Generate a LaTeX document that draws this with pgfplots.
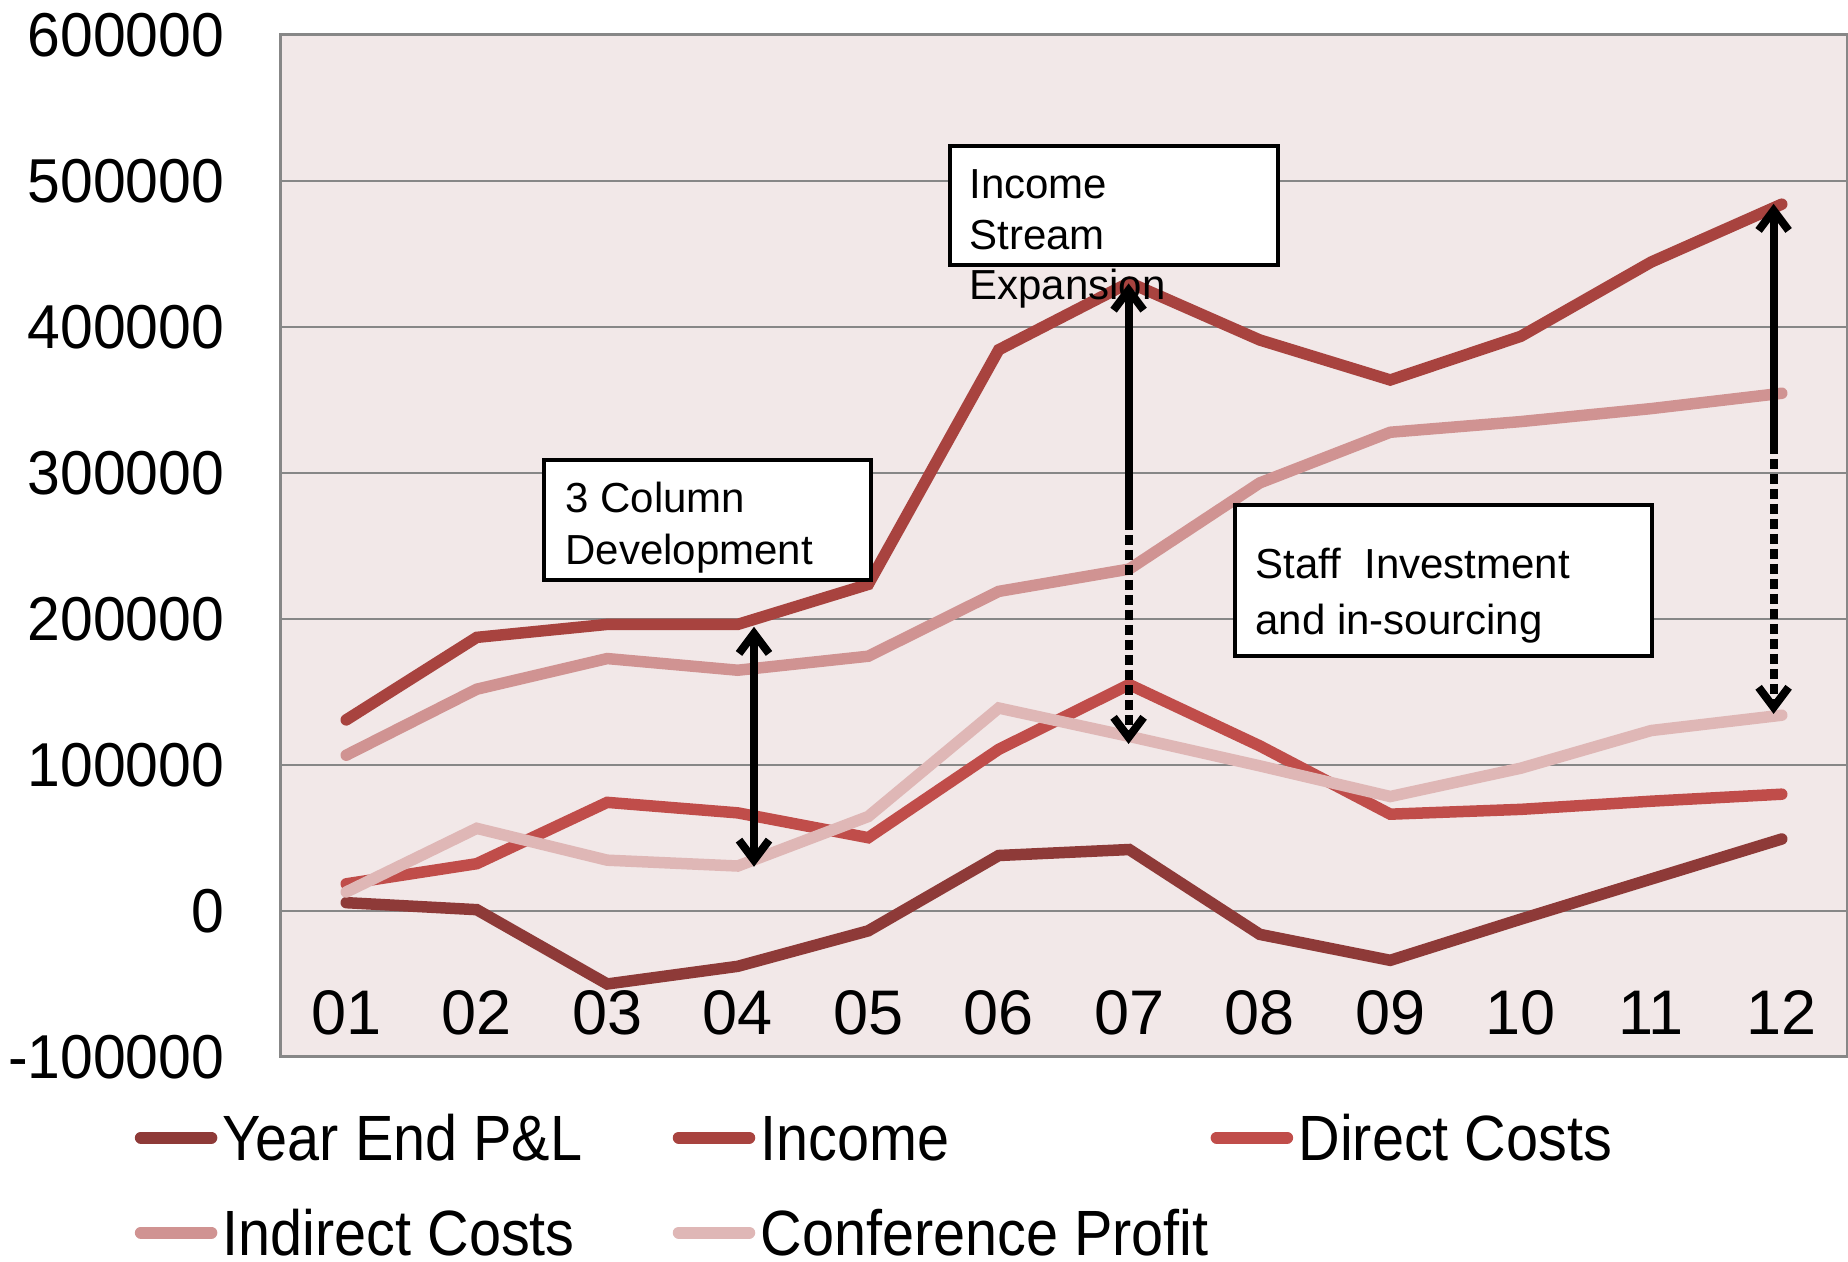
\documentclass[border=0pt]{standalone}
\usepackage{fontspec}
\setmainfont{Liberation Sans}
\newfontfamily\legfam[FakeStretch=0.9]{Liberation Sans}
\newfontfamily\yfam[FakeStretch=0.95]{Liberation Sans}
\usepackage{pgfplots}
\pgfplotsset{compat=1.18}
\usetikzlibrary{arrows.meta}
\definecolor{cPL}{HTML}{8E3A38}
\definecolor{cInc}{HTML}{A8433F}
\definecolor{cDir}{HTML}{C04D4A}
\definecolor{cInd}{HTML}{D09392}
\definecolor{cConf}{HTML}{DFB7B6}
\definecolor{bgpink}{HTML}{F2E8E8}
\definecolor{gridgray}{HTML}{878787}
\newcommand\LegFont{\legfam\fontsize{32}{36}\selectfont}
\newcommand\YFont{\yfam\fontsize{31}{36}\selectfont}
\newcommand\XFont{\fontsize{31.5}{36}\selectfont}
\newcommand\BoxFont{\fontsize{21}{26}\selectfont}
\newcommand\LT[1]{\makebox[227.7pt][l]{\hspace*{2.67pt}\rule{0pt}{24pt}#1}}
\pgfplotstableread{
x pl inc dir ind conf
0 5700 130900 18600 106700 13000
1 900 187400 32400 151900 56600
2 -50000 196300 74400 172900 34800
3 -37900 196300 67200 164900 30800
4 -13600 223700 50200 174500 64700
5 38000 384400 110700 218900 139000
6 42100 430400 155100 234200 119600
7 -16000 391100 113100 293200 99400
8 -33800 363700 66300 327900 78400
9 -5600 393600 69600 335200 97800
10 21900 444500 75200 344100 123600
11 49300 484100 80000 354600 134100
}\data
\begin{document}
\begin{tikzpicture}
\useasboundingbox (0,0) rectangle (924pt,631pt);
\begin{axis}[
  at={(140.5pt,102.5pt)}, anchor=south west,
  scale only axis, width=783pt, height=511pt,
  xmin=-0.5, xmax=11.5, ymin=-100000, ymax=600000,
  scaled y ticks=false,
  axis background/.style={fill=bgpink},
  axis line style={draw=gridgray, line width=1.5pt},
  ymajorgrids, grid style={draw=gridgray, line width=1.1pt},
  major tick length=0pt,
  xtick={0,...,11},
  xticklabels={01,02,03,04,05,06,07,08,09,10,11,12},
  ytick={-100000,0,100000,200000,300000,400000,500000,600000},
  yticklabels={-100000,0,100000,200000,300000,400000,500000,600000},
  xticklabel style={font=\XFont, anchor=base, yshift=11pt, inner sep=0pt},
  yticklabel style={font=\YFont, anchor=east, xshift=-28.2pt, inner sep=0pt},
  clip mode=individual,
  every axis plot/.append style={line width=5.75pt, line cap=round},
  legend image code/.code={\draw[#1, line width=6pt, line cap=round] (0pt,11.7pt) -- (35.25pt,11.7pt);},
  legend columns=3,
  legend style={at={(-0.09333,-0.0548)}, anchor=north west, draw=none, fill=none,
    inner sep=0pt, outer sep=0pt, row sep=22pt, /tikz/column sep=0pt,
    nodes={inner sep=0pt, outer sep=0pt, anchor=base west, font=\LegFont},
    cells={anchor=base west}},
]
\addplot[cPL] table[x=x,y=pl] {\data};
\addlegendentry{\LT{Year End P\&L}}
\addplot[cInc] table[x=x,y=inc] {\data};
\addlegendentry{\LT{Income}}
\addplot[cDir] table[x=x,y=dir] {\data};
\addlegendentry{\LT{Direct Costs}}
\addplot[cInd] table[x=x,y=ind] {\data};
\addlegendentry{\LT{Indirect Costs}}
\addplot[cConf] table[x=x,y=conf] {\data};
\addlegendentry{\LT{Conference Profit}}
\end{axis}
% annotation boxes
\draw[line width=2pt, fill=white] (272pt,341pt) rectangle (435.5pt,400.75pt);
\node[anchor=base west, inner sep=0pt, font=\BoxFont] at (282.6pt,374.7pt) {3 Column};
\node[anchor=base west, inner sep=0pt, font=\BoxFont] at (282.6pt,348.5pt) {Development};
\draw[line width=2pt, fill=white] (475pt,498.5pt) rectangle (639pt,557.75pt);
\node[anchor=base west, inner sep=0pt, font=\BoxFont] at (484.5pt,531.75pt) {Income};
\node[anchor=base west, inner sep=0pt, font=\BoxFont] at (484.5pt,506.25pt) {Stream};
\node[anchor=base west, inner sep=0pt, font=\BoxFont] at (484.5pt,481pt) {Expansion};
\draw[line width=2pt, fill=white] (617.5pt,303.2pt) rectangle (825.8pt,378.3pt);
\node[anchor=base west, inner sep=0pt, font=\BoxFont] at (627.5pt,341.6pt) {Staff\ \ Investment};
\node[anchor=base west, inner sep=0pt, font=\BoxFont] at (627.5pt,313.9pt) {and in-sourcing};
% arrows
\tikzset{barb/.tip={Straight Barb[length=10pt, width=15pt]}}
\draw[line width=4pt, {barb}-{barb}] (377pt,317.6pt) -- (377pt,197.6pt);
\draw[line width=4pt, -{barb}] (564.3pt,371pt) -- (564.3pt,489.25pt);
\draw[line width=4pt, dash pattern=on 5pt off 2.5pt, -{barb}] (564.3pt,371pt) -- (564.3pt,259pt);
\draw[line width=4pt, -{barb}] (886.8pt,409pt) -- (886.8pt,529.1pt);
\draw[line width=4pt, dash pattern=on 5pt off 2.5pt, -{barb}] (886.8pt,409pt) -- (886.8pt,274pt);
\end{tikzpicture}
\end{document}
